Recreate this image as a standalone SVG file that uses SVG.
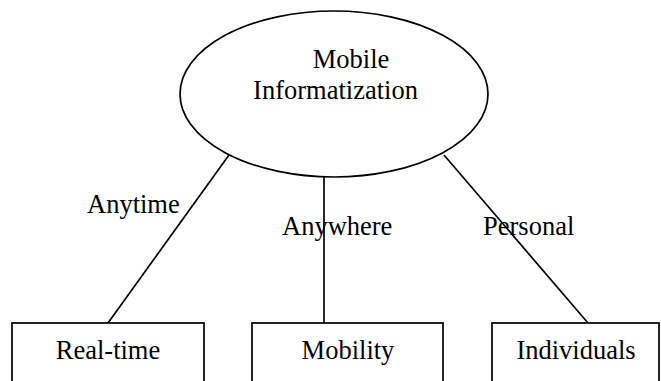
<svg xmlns="http://www.w3.org/2000/svg" width="661" height="381" viewBox="0 0 661 381">
<style>
.s{fill:none;stroke:#000;stroke-width:1.7}
.n{fill:#fff;stroke:#000;stroke-width:1.7}
text{font-family:"Liberation Serif","Times New Roman",serif;font-size:26.5px;fill:#000}
.m{text-anchor:middle}
</style>
<rect width="661" height="381" fill="#fff"/>
<g id="connectors">
<line class="s" x1="229" y1="155" x2="108" y2="323"/>
<line class="s" x1="324" y1="177" x2="324" y2="323"/>
<line class="s" x1="444" y1="155" x2="588" y2="323"/>
<text x="87" y="213">Anytime</text>
<text x="282" y="235">Anywhere</text>
<text x="483" y="235">Personal</text>
</g>
<g id="mobile-informatization">
<ellipse class="n" cx="334" cy="94" rx="154" ry="83"/>
<text class="m" x="351" y="68">Mobile</text>
<text class="m" x="335.5" y="99">Informatization</text>
</g>
<g id="real-time">
<rect class="n" x="12" y="323" width="192" height="70"/>
<text class="m" x="108" y="359">Real-time</text>
</g>
<g id="mobility">
<rect class="n" x="252" y="323" width="191" height="70"/>
<text class="m" x="348" y="359">Mobility</text>
</g>
<g id="individuals">
<rect class="n" x="492" y="323" width="167" height="70"/>
<text class="m" x="576" y="359">Individuals</text>
</g>
</svg>
